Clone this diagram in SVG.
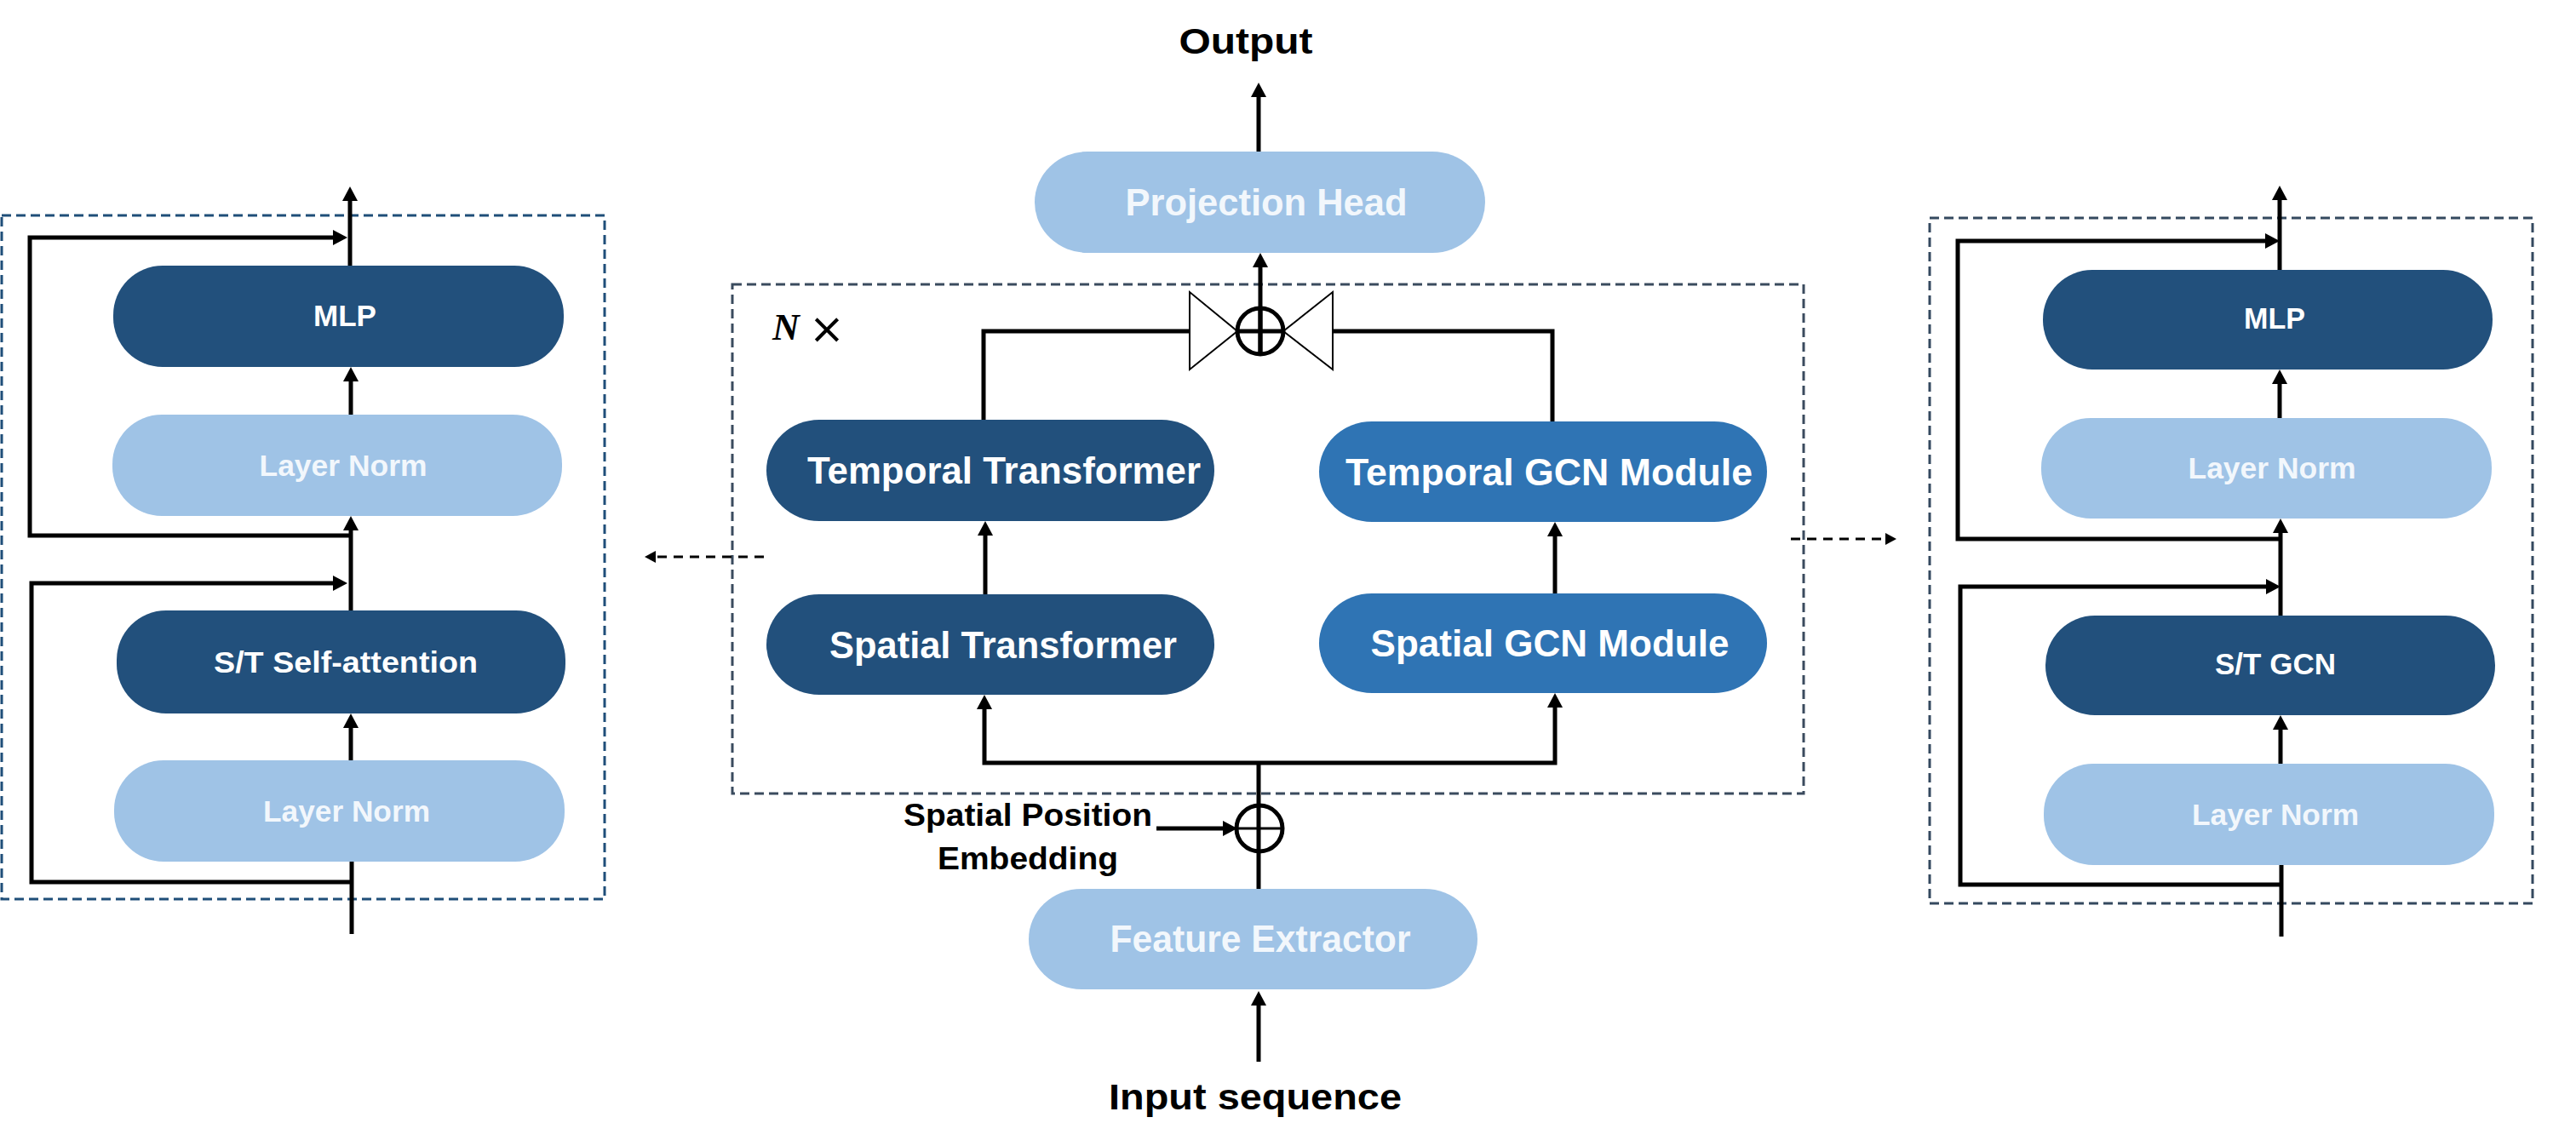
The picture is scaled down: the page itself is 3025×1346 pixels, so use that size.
<svg xmlns="http://www.w3.org/2000/svg" width="3025" height="1346" viewBox="0 0 3025 1346">
<defs>
<style>
.dark{fill:#22507c}
.mid{fill:#2f74b4}
.light{fill:#9fc3e6}
.nt{font-family:"Liberation Sans",Arial,sans-serif;font-weight:bold;fill:#ffffff;text-anchor:middle}
.lt{font-family:"Liberation Sans",Arial,sans-serif;font-weight:bold;fill:#f2f7fc;text-anchor:middle}
.bt{font-family:"Liberation Sans",Arial,sans-serif;font-weight:bold;fill:#000000;text-anchor:middle}
.ln{fill:none;stroke:#000;stroke-width:5}
.ar{fill:none;stroke:#000;stroke-width:5;marker-end:url(#ah)}
.box{fill:none;stroke-width:3;stroke-dasharray:11 6}
.da{fill:none;stroke:#000;stroke-width:3;stroke-dasharray:11 8;marker-end:url(#sh)}
</style>
<marker id="ah" markerWidth="18" markerHeight="18" refX="0" refY="9" orient="auto" markerUnits="userSpaceOnUse">
<path d="M0,0 L17,9 L0,18 z" fill="#000"/>
</marker>
<marker id="sh" markerWidth="14" markerHeight="14" refX="0" refY="7" orient="auto" markerUnits="userSpaceOnUse">
<path d="M0,0 L13,7 L0,14 z" fill="#000"/>
</marker>
</defs>
<rect width="3025" height="1346" fill="#ffffff"/>

<!-- dashed frames -->
<g id="frames">
<rect class="box" x="2" y="253" width="708" height="803" stroke="#1f4e79"/>
<rect class="box" x="860" y="334" width="1258" height="598" stroke="#3a4b5e"/>
<rect class="box" x="2266" y="256" width="708" height="805" stroke="#34495f"/>
</g>

<!-- connectors -->
<g id="connectors">
<!-- left panel -->
<path class="ln" d="M413,1097 V1012"/>
<path class="ar" d="M413,1036 H37 V685 H391"/>
<path class="ar" d="M412,893 V855"/>
<path class="ar" d="M412,717 V623"/>
<path class="ar" d="M412,629 H35 V279 H391"/>
<path class="ar" d="M412,487 V448"/>
<path class="ar" d="M411,312 V236"/>
<!-- right panel -->
<path class="ln" d="M2679,1100 V1016"/>
<path class="ar" d="M2679,1039 H2302 V689 H2661"/>
<path class="ar" d="M2678,897 V857"/>
<path class="ar" d="M2678,723 V626"/>
<path class="ar" d="M2678,633 H2299 V283 H2660"/>
<path class="ar" d="M2677,491 V451"/>
<path class="ar" d="M2677,317 V235"/>
<!-- centre -->
<path class="ar" d="M1478,1247 V1181"/>
<path class="ln" d="M1478,1044 V896"/>
<path class="ar" d="M1358,973 H1436"/>
<path class="ar" d="M1478,896 H1156 V833"/>
<path class="ar" d="M1478,896 H1826 V831"/>
<path class="ar" d="M1157,698 V629"/>
<path class="ar" d="M1826,697 V630"/>
<path class="ln" d="M1155,493 V389 H1397"/>
<path class="ln" d="M1823,495 V389 H1565"/>
<path class="ar" d="M1480,416 V314"/>
<path class="ar" d="M1478,178 V114"/>
<!-- dashed pointers -->
<path class="da" d="M897,654 H770"/>
<path class="da" d="M2103,633 H2214"/>
</g>

<!-- combiner (bowtie + sum) -->
<g id="merge">
<polygon points="1397,343 1397,434 1453,389" fill="#ffffff" stroke="#000" stroke-width="2"/>
<polygon points="1565,343 1565,434 1507,389" fill="#ffffff" stroke="#000" stroke-width="2"/>
<circle cx="1480" cy="389" r="27" fill="none" stroke="#000" stroke-width="5"/>
<path d="M1453,389 H1507 M1480,362 V416" stroke="#000" stroke-width="5"/>
</g>
<g id="posadd">
<circle cx="1479" cy="973" r="27" fill="none" stroke="#000" stroke-width="5"/>
<path d="M1452,973 H1506" stroke="#000" stroke-width="3"/>
</g>

<!-- left panel nodes -->
<g id="l-mlp"><rect class="dark" x="133" y="312" width="529" height="119" rx="58"/><text class="nt" x="405" y="383" font-size="35" textLength="74" lengthAdjust="spacingAndGlyphs">MLP</text></g>
<g id="l-ln1"><rect class="light" x="132" y="487" width="528" height="119" rx="58"/><text class="lt" x="403" y="559" font-size="35" textLength="197" lengthAdjust="spacingAndGlyphs">Layer Norm</text></g>
<g id="l-sa"><rect class="dark" x="137" y="717" width="527" height="121" rx="58"/><text class="nt" x="406" y="790" font-size="35" textLength="310" lengthAdjust="spacingAndGlyphs">S/T Self-attention</text></g>
<g id="l-ln2"><rect class="light" x="134" y="893" width="529" height="119" rx="58"/><text class="lt" x="407" y="965" font-size="35" textLength="196" lengthAdjust="spacingAndGlyphs">Layer Norm</text></g>

<!-- right panel nodes -->
<g id="r-mlp"><rect class="dark" x="2399" y="317" width="528" height="117" rx="58"/><text class="nt" x="2671" y="386" font-size="35" textLength="72" lengthAdjust="spacingAndGlyphs">MLP</text></g>
<g id="r-ln1"><rect class="light" x="2397" y="491" width="529" height="118" rx="58"/><text class="lt" x="2668" y="562" font-size="35" textLength="197" lengthAdjust="spacingAndGlyphs">Layer Norm</text></g>
<g id="r-gcn"><rect class="dark" x="2402" y="723" width="528" height="117" rx="58"/><text class="nt" x="2672" y="792" font-size="35" textLength="142" lengthAdjust="spacingAndGlyphs">S/T GCN</text></g>
<g id="r-ln2"><rect class="light" x="2400" y="897" width="529" height="119" rx="58"/><text class="lt" x="2672" y="969" font-size="35" textLength="196" lengthAdjust="spacingAndGlyphs">Layer Norm</text></g>

<!-- centre nodes -->
<g id="proj"><rect class="light" x="1215" y="178" width="529" height="119" rx="62"/><text class="lt" x="1487" y="253" font-size="44" textLength="331" lengthAdjust="spacingAndGlyphs">Projection Head</text></g>
<g id="tt"><rect class="dark" x="900" y="493" width="526" height="119" rx="62"/><text class="nt" x="1179" y="568" font-size="44" textLength="462" lengthAdjust="spacingAndGlyphs">Temporal Transformer</text></g>
<g id="tgm"><rect class="mid" x="1549" y="495" width="526" height="118" rx="62"/><text class="nt" x="1819" y="570" font-size="44" textLength="478" lengthAdjust="spacingAndGlyphs">Temporal GCN Module</text></g>
<g id="st"><rect class="dark" x="900" y="698" width="526" height="118" rx="62"/><text class="nt" x="1178" y="773" font-size="44" textLength="408" lengthAdjust="spacingAndGlyphs">Spatial Transformer</text></g>
<g id="sgm"><rect class="mid" x="1549" y="697" width="526" height="117" rx="62"/><text class="nt" x="1820" y="771" font-size="44" textLength="421" lengthAdjust="spacingAndGlyphs">Spatial GCN Module</text></g>
<g id="fe"><rect class="light" x="1208" y="1044" width="527" height="118" rx="62"/><text class="lt" x="1480" y="1118" font-size="44" textLength="353" lengthAdjust="spacingAndGlyphs">Feature Extractor</text></g>

<!-- labels -->
<g id="labels">
<text class="bt" x="1463" y="63" font-size="43" textLength="157" lengthAdjust="spacingAndGlyphs">Output</text>
<text class="bt" x="1474" y="1303" font-size="43" textLength="344" lengthAdjust="spacingAndGlyphs">Input sequence</text>
<text class="bt" x="1207" y="970" font-size="37" textLength="292" lengthAdjust="spacingAndGlyphs" style="font-weight:600">Spatial Position</text>
<text class="bt" x="1207" y="1021" font-size="37" textLength="212" lengthAdjust="spacingAndGlyphs" style="font-weight:600">Embedding</text>
<text x="907" y="399" font-family="'Liberation Serif','Times New Roman',serif" font-size="44" font-style="italic" font-weight="bold">N</text>
<text x="950" y="403" font-family="'DejaVu Sans',sans-serif" font-size="50">×</text>
</g>
</svg>
